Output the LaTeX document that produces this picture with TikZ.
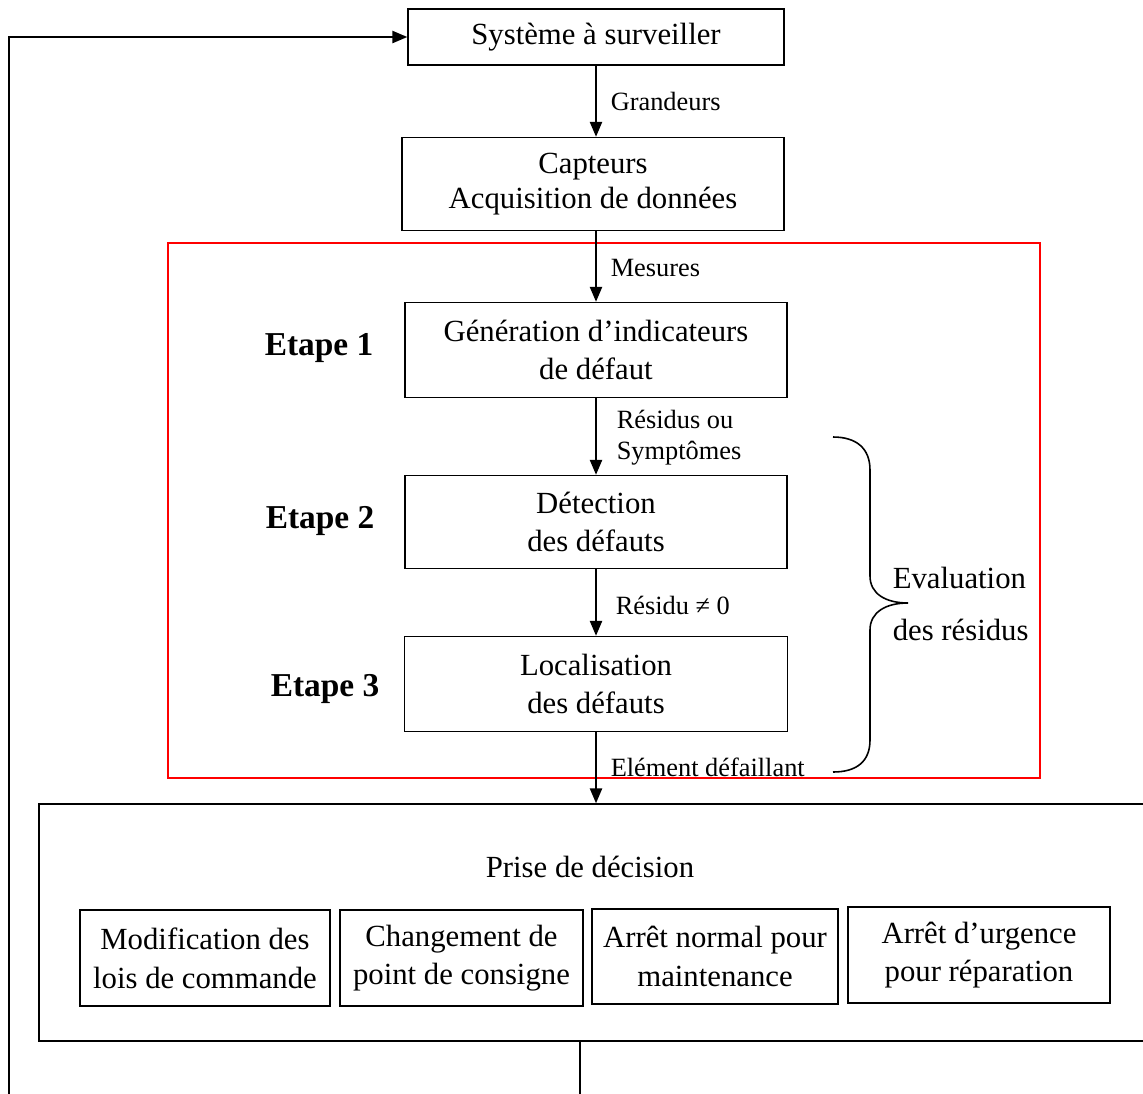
\documentclass[tikz,border=0pt]{standalone}
\usepackage{fontspec}
\setmainfont{Liberation Serif}
\usetikzlibrary{arrows.meta}
\tikzset{>={Triangle[length=8.5pt,width=7pt]}}

\begin{document}
\begin{tikzpicture}[x=0.02cm,y=-0.02cm,line width=0.9pt,
  box/.style={draw,rectangle,inner sep=0pt,align=center,
    font=\fontsize{17.5}{22}\selectfont},
  lbl/.style={anchor=west,inner sep=0pt,align=left,
    font=\fontsize{15}{17.6}\selectfont},
  etape/.style={inner sep=0pt,font=\fontsize{19}{22}\selectfont\bfseries}]
% Picture frame, the decision box runs past the right edge
\useasboundingbox (0,0) rectangle (1143,1093);
\clip (0,0) rectangle (1143,1093);

% Main chain of boxes
\node[box,minimum width=7.52cm,minimum height=1.12cm] (sys) at (596,37) {Système à surveiller};
\node[box,minimum width=7.64cm,minimum height=1.86cm,
  font=\fontsize{17.5}{20}\selectfont] (capt) at (593,184) {Capteurs\\Acquisition de données};
\node[box,minimum width=7.64cm,minimum height=1.9cm] (gen) at (596,350) {Génération d’indicateurs\\de défaut};
\node[box,minimum width=7.64cm,minimum height=1.86cm] (det) at (596,522) {Détection\\des défauts};
\node[box,minimum width=7.66cm,minimum height=1.9cm] (loc) at (596,684) {Localisation\\des défauts};

% Step names
\node[etape] (e1) at (319,348) {Etape 1};
\node[etape] (e2) at (320,521) {Etape 2};
\node[etape] (e3) at (325,689) {Etape 3};

% Red frame round the three steps
\draw[red,line width=0.7pt] (168,243) rectangle (1040,778);

% Decision box and its four actions
\node[box,minimum width=22.42cm,minimum height=4.74cm] (dec) at (599.5,922.5) {};
\node[box,draw=none] (prise) at (590,867) {Prise de décision};
\node[box,minimum width=5cm,minimum height=1.92cm] (mod) at (205,958) {Modification des\\lois de commande};
\node[box,minimum width=4.86cm,minimum height=1.92cm] (chg) at (461.5,958) {Changement de\\point de consigne};
\node[box,minimum width=4.92cm,minimum height=1.9cm] (arn) at (715,956.5) {Arrêt normal pour\\maintenance};
\node[box,minimum width=5.24cm,minimum height=1.92cm] (aru) at (979,955) {Arrêt d’urgence\\pour réparation};

% Connectors
\draw[->] (sys.south -| gen) -- (capt.north -| gen);
\draw[->] (capt.south -| gen) -- (gen.north);
\draw[->] (gen.south) -- (det.north);
\draw[->] (det.south) -- (loc.north);
\draw[->] (loc.south) -- (dec.north -| loc);

% Connector labels
\node[lbl] (grand) at (610,101) {Grandeurs};
\node[lbl] (mes) at (610,268) {Mesures};
\node[lbl] (res) at (616,438) {Résidus ou\\Symptômes};
\node[lbl] (resz) at (615,605) {Résidu ≠ 0};
\node[lbl] (elem) at (610,767) {Elément défaillant};

% Brace and its text
\draw (833,437) .. controls (856,437) and (870,448) .. (870,470)
  -- (870,576) .. controls (870,594) and (886,603) .. (908,603)
  .. controls (886,603) and (870,612) .. (870,630)
  -- (870,740) .. controls (870,762) and (856,772) .. (833,772);
\node[anchor=west,inner sep=0pt,align=left,
  font=\fontsize{17.5}{29.5}\selectfont] (eval) at (892,604) {Evaluation\\des résidus};

% Feedback loop
\coordinate (fbin) at (9,1100);
\coordinate (fbout) at (580,1100);
\draw (dec.south -| fbout) -- (fbout);
\draw[->] (fbin) |- (sys.west);
\end{tikzpicture}
\end{document}
